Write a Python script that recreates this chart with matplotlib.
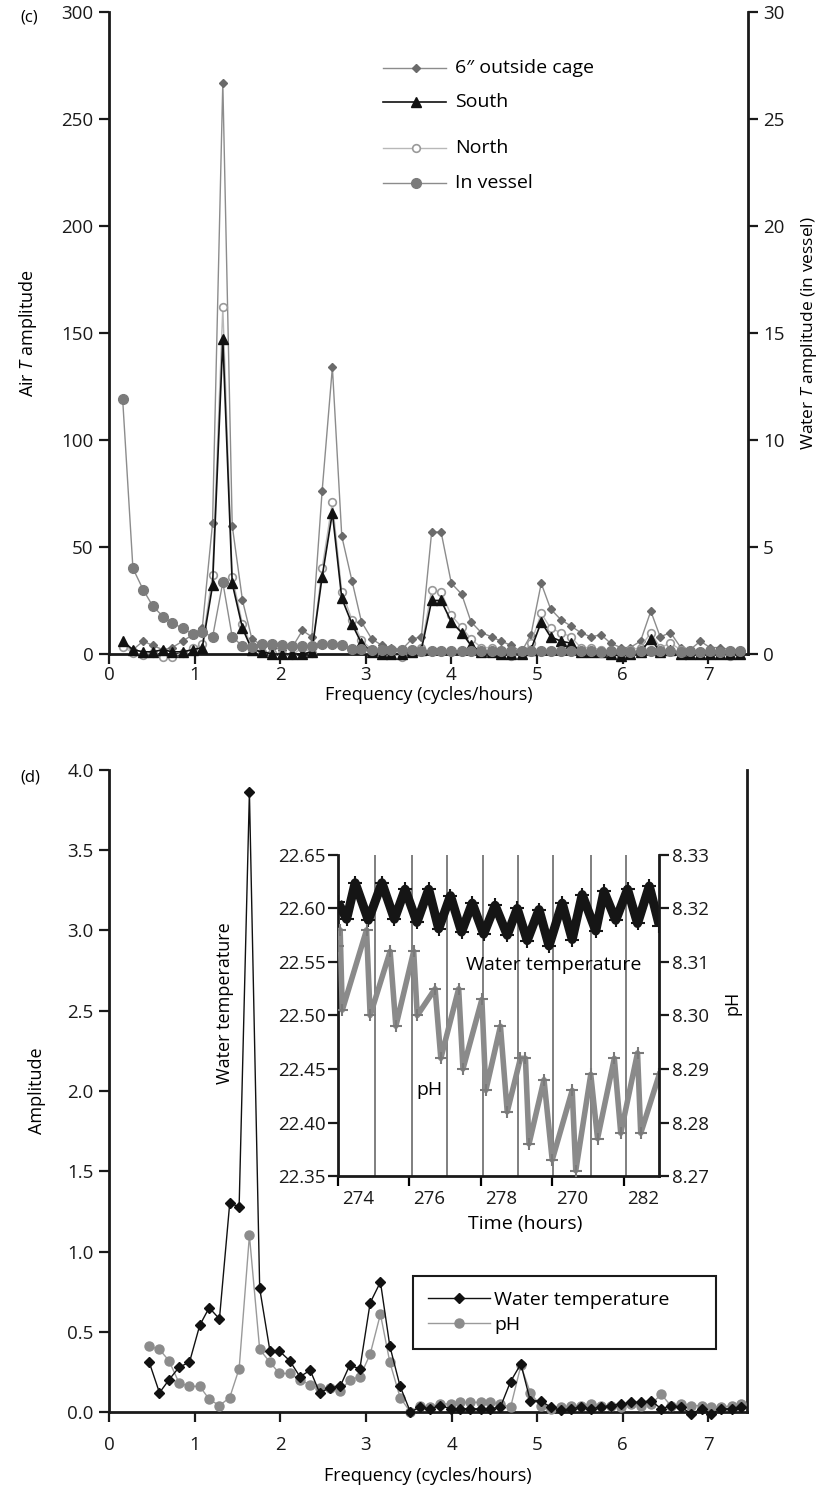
import matplotlib
matplotlib.use('Agg')
import matplotlib.pyplot as plt
from matplotlib.lines import Line2D

plt.rcParams['font.family'] = ['Open Sans', 'DejaVu Sans']
plt.rcParams['mathtext.fontset'] = 'custom'
plt.rcParams['mathtext.rm'] = 'Open Sans'
plt.rcParams['mathtext.it'] = 'Open Sans:italic'
FS = 13      # axis labels
FT = 13.5    # tick labels
FL = 14      # legends / annotations

# ---------------- panel (c) data ----------------
freq_c = [0.16, 0.28, 0.40, 0.51, 0.63, 0.74, 0.86, 0.98, 1.09, 1.21,
          1.33, 1.44, 1.56, 1.67, 1.79, 1.91, 2.02, 2.14, 2.26, 2.37,
          2.49, 2.61, 2.72, 2.84, 2.95, 3.07, 3.19, 3.30, 3.42, 3.54,
          3.65, 3.77, 3.88, 4.00, 4.12, 4.23, 4.35, 4.47, 4.58, 4.70,
          4.82, 4.93, 5.05, 5.16, 5.28, 5.40, 5.51, 5.63, 5.75, 5.86,
          5.98, 6.09, 6.21, 6.33, 6.44, 6.56, 6.68, 6.79, 6.91, 7.02,
          7.14, 7.26, 7.37]
cage = [4, 2, 6, 4, 2, 3, 6, 9, 12, 61,
        267, 60, 25, 7, 4, 3, 2, 3, 11, 8,
        76, 134, 55, 34, 15, 7, 4, 3, 2, 7,
        8, 57, 57, 33, 28, 15, 10, 8, 6, 4,
        1, 9, 33, 21, 16, 13, 10, 8, 9, 5,
        3, 3, 6, 20, 8, 10, 3, 2, 6, 3,
        3, 2, 2]
south = [6, 2, 1, 1, 2, 1, 1, 2, 3, 32,
         147, 33, 12, 2, 1, 0, 0, 0, 0, 1,
         36, 66, 26, 14, 5, 1, 0, 0, 0, 1,
         2, 25, 25, 15, 10, 4, 1, 1, 0, 0,
         0, 2, 15, 8, 6, 5, 1, 1, 1, 0,
         -1, 0, 1, 7, 1, 2, 0, 0, 0, 0,
         0, 0, 0]
north = [3.4, 0.6, -0.5, 0.6, -1.2, -1.2, 0.5, 2.6, 4.6, 37,
         162, 36, 14, 3, 1, 0.5, 0, -0.5, 3, 0.5,
         40, 71, 29, 16, 6.5, 2, 0.5, 0, -1.2, 1.4,
         3, 30, 29, 18, 12.5, 7, 3, 3, 1, -1,
         0.3, 5, 19, 12, 10, 8, 3, 3, 2, 0.5,
         -1, 2, 3, 10, 3, 5, 2, 1.4, 0.6, 0.3,
         0, -0.8, 1.4]
vessel = [11.9, 4.0, 3.0, 2.25, 1.75, 1.45, 1.2, 0.92, 1.05, 0.78,
          3.35, 0.8, 0.37, 0.33, 0.45, 0.45, 0.4, 0.35, 0.35, 0.35,
          0.47, 0.47, 0.4, 0.22, 0.22, 0.2, 0.2, 0.2, 0.18, 0.17,
          0.15, 0.16, 0.15, 0.14, 0.13, 0.14, 0.13, 0.12, 0.13, 0.12,
          0.12, 0.14, 0.13, 0.12, 0.12, 0.13, 0.12, 0.12, 0.11, 0.12,
          0.12, 0.11, 0.12, 0.13, 0.12, 0.12, 0.11, 0.12, 0.11, 0.12,
          0.11, 0.12, 0.12]
legend_c = ['6\u2033 outside cage', 'South', 'North', 'In vessel']

# ---------------- panel (d) data ----------------
freq_d = [0.47, 0.59, 0.70, 0.82, 0.94, 1.06, 1.17, 1.29, 1.41, 1.52,
          1.64, 1.76, 1.88, 1.99, 2.11, 2.23, 2.35, 2.46, 2.58, 2.70,
          2.81, 2.93, 3.05, 3.17, 3.28, 3.40, 3.52, 3.63, 3.75, 3.87,
          3.99, 4.10, 4.22, 4.34, 4.45, 4.57, 4.69, 4.81, 4.92, 5.04,
          5.16, 5.28, 5.39, 5.51, 5.63, 5.74, 5.86, 5.98, 6.10, 6.21,
          6.33, 6.45, 6.56, 6.68, 6.80, 6.92, 7.03, 7.15, 7.27, 7.38]
amp_wt = [0.31, 0.12, 0.20, 0.28, 0.31, 0.54, 0.65, 0.58, 1.30, 1.28,
          3.86, 0.77, 0.38, 0.38, 0.32, 0.22, 0.26, 0.12, 0.15, 0.16,
          0.29, 0.27, 0.68, 0.81, 0.41, 0.16, 0.00, 0.03, 0.02, 0.04,
          0.02, 0.02, 0.02, 0.02, 0.02, 0.03, 0.19, 0.30, 0.07, 0.07,
          0.03, 0.01, 0.02, 0.03, 0.02, 0.03, 0.04, 0.05, 0.06, 0.06,
          0.07, 0.02, 0.04, 0.03, -0.01, 0.02, -0.01, 0.02, 0.02, 0.03]
amp_ph = [0.41, 0.39, 0.32, 0.18, 0.16, 0.16, 0.08, 0.04, 0.09, 0.27,
          1.10, 0.39, 0.31, 0.24, 0.24, 0.20, 0.17, 0.15, 0.15, 0.13,
          0.20, 0.22, 0.36, 0.61, 0.31, 0.09, 0.00, 0.04, 0.03, 0.05,
          0.05, 0.06, 0.06, 0.06, 0.06, 0.05, 0.03, 0.29, 0.12, 0.04,
          0.02, 0.03, 0.04, 0.04, 0.05, 0.04, 0.04, 0.03, 0.05, 0.04,
          0.05, 0.11, 0.04, 0.05, 0.04, 0.04, 0.03, 0.03, 0.04, 0.05]
legend_d = ['Water temperature', 'pH']

# inset time series (turning points)
wt_time = [274.00, 274.24, 274.48, 274.85, 275.23, 275.58, 275.88, 276.21,
           276.54, 276.82, 277.15, 277.46, 277.76, 278.08, 278.40, 278.74,
           279.02, 279.30, 279.63, 279.91, 280.28, 280.56, 280.84, 281.22,
           281.45, 281.78, 282.11, 282.39, 282.72, 283.00]
wt_temp = [22.606, 22.590, 22.624, 22.589, 22.624, 22.590, 22.618, 22.587,
           22.618, 22.581, 22.612, 22.578, 22.605, 22.576, 22.603, 22.575,
           22.600, 22.570, 22.599, 22.565, 22.605, 22.571, 22.613, 22.579,
           22.616, 22.589, 22.618, 22.586, 22.621, 22.584]
ph_time = [274.00, 274.06, 274.12, 274.80, 274.90, 275.46, 275.62, 276.12,
           276.22, 276.72, 276.88, 277.38, 277.50, 278.03, 278.14, 278.55,
           278.74, 279.11, 279.25, 279.35, 279.77, 280.00, 280.56, 280.66,
           281.08, 281.27, 281.74, 281.92, 282.39, 282.48, 283.00]
ph_val = [8.313, 8.316, 8.301, 8.316, 8.300, 8.312, 8.298, 8.312,
          8.300, 8.305, 8.292, 8.305, 8.290, 8.303, 8.286, 8.298,
          8.282, 8.292, 8.292, 8.276, 8.288, 8.273, 8.286, 8.271,
          8.289, 8.277, 8.292, 8.278, 8.293, 8.278, 8.289]
hour_marks = [275.05, 276.07, 277.06, 278.06, 279.03, 280.03, 281.09, 282.08]
inset_ticks = [274, 276, 278, 280, 282]
inset_ticklabels = ['274', '276', '278', '270', '282']

# ---------------- figure ----------------
fig = plt.figure(figsize=(8.23, 14.89), dpi=100)

SPW = 2.0
def style_axis(a):
    a.tick_params(direction='out', length=7, width=1.6, labelsize=FT, pad=4,
                  colors='#1a1a1a')
    for s in a.spines.values():
        s.set_linewidth(SPW)
        s.set_color('#1a1a1a')

# ---- panel (c) ----
ax = fig.add_axes([0.1324, 0.5608, 0.7764, 0.4311])
ax2 = ax.twinx()
style_axis(ax); style_axis(ax2)
ax.spines['top'].set_visible(False)
ax.spines['right'].set_visible(False)
ax2.spines['top'].set_visible(False)
ax2.spines['left'].set_visible(False)
ax2.spines['bottom'].set_visible(False)

st_cage = dict(color='#8c8c8c', lw=1.0, marker='D', ms=4.5, mfc='#6a6a6a', mec='#6a6a6a')
st_south = dict(color='#111111', lw=1.2, marker='^', ms=6.5, mfc='#111111', mec='#111111')
st_north = dict(color='#b8b8b8', lw=1.0, marker='o', ms=5.5, mfc='white', mec='#9a9a9a', mew=1.2)
st_vessel = dict(color='#8c8c8c', lw=1.0, marker='o', ms=7, mfc='#7b7b7b', mec='#7b7b7b')

ax.plot(freq_c, cage, clip_on=False, zorder=3, **st_cage)
ax.plot(freq_c, north, clip_on=False, zorder=4, **st_north)
ax.plot(freq_c, south, clip_on=False, zorder=5, **st_south)
ax2.plot(freq_c, vessel, clip_on=False, zorder=2, **st_vessel)

ax.set_xlim(0, 7.465)
ax.set_ylim(0, 300)
ax2.set_ylim(0, 30)
ax.set_xticks(range(8))
ax.set_yticks(range(0, 301, 50))
ax2.set_yticks(range(0, 31, 5))
ax.tick_params(axis='x', pad=2)
ax.set_xlabel('Frequency (cycles/hours)', fontsize=FS)
ax.xaxis.set_label_coords(0.5, -0.05)
ax.set_ylabel('Air $\\mathit{T}$ amplitude', fontsize=FS)
ax.yaxis.set_label_coords(-0.11, 0.5)
ax2.set_ylabel('Water $\\mathit{T}$ amplitude (in vessel)', fontsize=12.5, rotation=90)
ax2.yaxis.set_label_coords(1.08, 0.5)

leg_y = [0.9128, 0.8598, 0.7882, 0.7336]
for lab, st, yy in zip(legend_c, [st_cage, st_south, st_north, st_vessel], leg_y):
    line_kw = {k: v for k, v in st.items() if k in ('color', 'lw')}
    mk_kw = {k: v for k, v in st.items() if k not in ('color', 'lw')}
    ax.add_line(Line2D([0.4288, 0.5274], [yy, yy], transform=ax.transAxes, **line_kw))
    ax.add_line(Line2D([0.4806], [yy], transform=ax.transAxes, ls='none', **mk_kw))
    ax.text(0.5415, yy, lab, transform=ax.transAxes, va='center', ha='left', fontsize=FL)

fig.text(20 / 823, 1 - 18 / 1489, '(c)', fontsize=FS - 1, va='center', ha='left')

# ---- panel (d) ----
axb = fig.add_axes([0.1324, 0.0517, 0.7752, 0.4312])
style_axis(axb)
axb.spines['top'].set_visible(False)
axb.tick_params(axis='y', right=False)
axb.plot(freq_d, amp_wt, color='#111111', lw=1.0, marker='D', ms=5, mfc='#111111',
         mec='#111111', clip_on=False, zorder=4, label=legend_d[0])
axb.plot(freq_d, amp_ph, color='#9a9a9a', lw=1.0, marker='o', ms=6.5, mfc='#8c8c8c',
         mec='#8c8c8c', clip_on=False, zorder=3, label=legend_d[1])
axb.set_xlim(0, 7.45)
axb.set_ylim(0, 4.0)
axb.set_xticks(range(8))
axb.set_yticks([0, 0.5, 1.0, 1.5, 2.0, 2.5, 3.0, 3.5, 4.0])
axb.set_yticklabels(['0.0', '0.5', '1.0', '1.5', '2.0', '2.5', '3.0', '3.5', '4.0'])
axb.tick_params(axis='x', pad=10)
axb.set_xlabel('Frequency (cycles/hours)', fontsize=FS)
axb.xaxis.set_label_coords(0.5, -0.085)
axb.set_ylabel('Amplitude', fontsize=FS)
axb.yaxis.set_label_coords(-0.099, 0.5)
leg = axb.legend(loc='upper left', bbox_to_anchor=(0.476, 0.10, 0.475, 0.1125),
                 mode='expand', borderaxespad=0, frameon=True, fancybox=False,
                 framealpha=1, edgecolor='#1a1a1a', fontsize=FL, handlelength=3.2,
                 handletextpad=0.2, labelspacing=0.35, borderpad=0.8, numpoints=1)
leg.get_frame().set_linewidth(1.5)

fig.text(20 / 823, 1 - 777 / 1489, '(d)', fontsize=FS - 1, va='center', ha='left')

# ---- inset ----
axi = fig.add_axes([0.4107, 0.2102, 0.3904, 0.2156])
axi2 = axi.twinx()
style_axis(axi); style_axis(axi2)
axi.spines['top'].set_visible(False)
axi.spines['right'].set_visible(False)
axi2.spines['top'].set_visible(False)
axi2.spines['left'].set_visible(False)
axi2.spines['bottom'].set_visible(False)
for t in hour_marks:
    axi.axvline(t, color='#6a6a6a', lw=1.2, zorder=1)
axi.plot(wt_time, wt_temp, color='#151515', lw=6.5, solid_joinstyle='round',
         solid_capstyle='butt', zorder=3, marker='+', ms=10, mew=1.5, mec='#151515')
axi2.plot(ph_time, ph_val, color='#8a8a8a', lw=4, solid_joinstyle='round',
          zorder=2, marker='+', ms=9, mew=1.5, mec='#7a7a7a')
axi.set_xlim(274, 283)
axi.set_ylim(22.35, 22.65)
axi2.set_ylim(8.27, 8.33)
axi.set_yticks([22.35, 22.40, 22.45, 22.50, 22.55, 22.60, 22.65])
axi.set_yticklabels(['%.2f' % v for v in [22.35, 22.40, 22.45, 22.50, 22.55, 22.60, 22.65]])
axi2.set_yticks([8.27, 8.28, 8.29, 8.30, 8.31, 8.32, 8.33])
axi2.set_yticklabels(['%.2f' % v for v in [8.27, 8.28, 8.29, 8.30, 8.31, 8.32, 8.33]])
# tick marks at the even hours, labels printed slightly to their right
axi.set_xticks(inset_ticks, minor=True)
axi.set_xticks([t + 0.56 for t in inset_ticks])
axi.set_xticklabels(inset_ticklabels)
axi.tick_params(axis='x', which='major', length=0, pad=10)
axi.tick_params(axis='x', which='minor', direction='out', length=7, width=1.6)
axi.tick_params(axis='y', pad=2)
axi2.tick_params(axis='y', pad=2)
axi.set_xlabel('Time (hours)', fontsize=FL)
axi.xaxis.set_label_coords(0.584, -0.12)
axi.set_ylabel('Water temperature', fontsize=FS)
axi.yaxis.set_label_coords(-0.324, 0.54)
axi2.set_ylabel('pH', fontsize=FS, rotation=90)
axi2.yaxis.set_label_coords(1.201, 0.54)
axi.text(280.05, 22.547, 'Water temperature', ha='center', va='center', fontsize=FL, zorder=5)
axi.text(276.56, 22.43, 'pH', ha='center', va='center', fontsize=FL, zorder=5)

fig.savefig('out.png', dpi=100)
